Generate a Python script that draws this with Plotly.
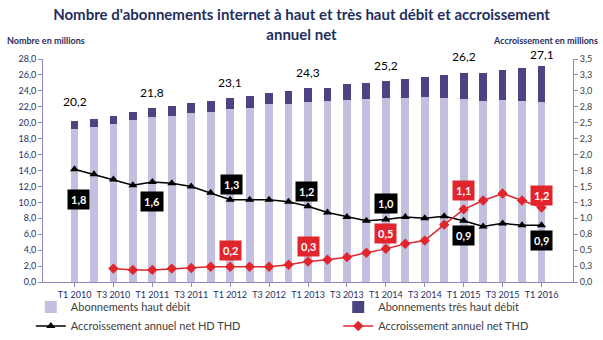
import plotly.graph_objects as go

quarters = [f"T{q} {y}" for y in range(2010, 2017) for q in (1, 2, 3, 4)][:25]

haut_debit = [19.2, 19.5, 19.85, 20.3, 20.7, 20.9, 21.2, 21.4, 21.7, 21.9, 22.3, 22.4, 22.65,
              22.7, 22.9, 22.95, 23.1, 23.1, 23.25, 23.1, 22.95, 22.7, 22.8, 22.7, 22.65]
total = [20.2, 20.5, 20.9, 21.4, 21.85, 22.1, 22.5, 22.7, 23.1, 23.4, 23.7, 24.0, 24.3,
         24.4, 24.8, 25.0, 25.25, 25.5, 25.75, 26.0, 26.25, 26.3, 26.6, 26.9, 27.15]
tres_haut_debit = [round(t - h, 2) for t, h in zip(total, haut_debit)]

accr_hd_thd = [1.77, 1.69, 1.61, 1.52, 1.57, 1.55, 1.50, 1.40, 1.29, 1.29, 1.29, 1.26, 1.19,
               1.09, 1.02, 0.96, 0.98, 1.02, 1.00, 1.03, 0.96, 0.87, 0.92, 0.89, 0.89]
accr_thd = [None, None, 0.21, 0.19, 0.19, 0.21, 0.22, 0.24, 0.24, 0.24, 0.24, 0.27, 0.32,
            0.35, 0.39, 0.46, 0.52, 0.60, 0.65, 0.90, 1.14, 1.28, 1.39, 1.28, 1.17]

label_idx = [0, 4, 8, 12, 16, 20, 24]
total_labels = ["20,2", "21,8", "23,1", "24,3", "25,2", "26,2", "27,1"]
hd_thd_labels = ["1,8", "1,6", "1,3", "1,2", "1,0", "0,9", "0,9"]
thd_label_idx = [8, 12, 16, 20, 24]
thd_labels = ["0,2", "0,3", "0,5", "1,1", "1,2"]

left_ticks = [i * 2 for i in range(15)]
left_ticktext = [f"{v},0" for v in left_ticks]
right_ticks = [i * 0.25 for i in range(15)]
right_ticktext = ["0,0", "0,3", "0,5", "0,8", "1,0", "1,3", "1,5", "1,8",
                  "2,0", "2,3", "2,5", "2,8", "3,0", "3,3", "3,5"]

# style offsets for labels (pixels)
total_shift = [20, 15, 16, 16, 15, 16, 11]
hd_thd_shift = [-30, -20, 15, 15, 16, -15, -15]
hd_thd_xshift = [4, 0, 1, -2, 0, 0, 0]
thd_shift = [16, 15, 15, 19, 12]

NAVY = "#1F2F5F"
AXIS = "#8C8CBC"
FONT = "Lato"

fig = go.Figure()
fig.add_trace(go.Bar(x=quarters, y=haut_debit, name="Abonnements haut débit",
                     marker=dict(color="#C3BFDE", line=dict(width=0)), yaxis="y",
                     legend="legend"))
fig.add_trace(go.Bar(x=quarters, y=tres_haut_debit, name="Abonnements très haut débit",
                     marker=dict(color="#4A4482", line=dict(width=0)), yaxis="y",
                     legend="legend2"))
fig.add_trace(go.Scatter(x=quarters, y=accr_hd_thd, name="Accroissement annuel net HD THD",
                         mode="lines+markers", line=dict(color="black", width=1.5),
                         marker=dict(symbol="triangle-up", size=8, color="black"), yaxis="y2",
                         legend="legend"))
fig.add_trace(go.Scatter(x=quarters, y=accr_thd, name="Accroissement annuel net THD",
                         mode="lines+markers", line=dict(color="#E0262C", width=1.5),
                         marker=dict(symbol="diamond", size=8, color="#E0262C"), yaxis="y2",
                         legend="legend2"))

annotations = []
for k, i in enumerate(label_idx):
    annotations.append(dict(x=quarters[i], y=total[i], xref="x", yref="y", text=total_labels[k],
                            showarrow=False, yshift=total_shift[k], yanchor="middle",
                            font=dict(family=FONT, size=12, color="black")))
    annotations.append(dict(x=quarters[i], y=accr_hd_thd[i], xref="x", yref="y2",
                            text=f"<b>{hd_thd_labels[k]}</b>", showarrow=False,
                            yshift=hd_thd_shift[k], xshift=hd_thd_xshift[k], yanchor="middle",
                            bgcolor="black", borderpad=3,
                            font=dict(family=FONT, size=11, color="white")))
for k, i in enumerate(thd_label_idx):
    annotations.append(dict(x=quarters[i], y=accr_thd[i], xref="x", yref="y2",
                            text=f"<b>{thd_labels[k]}</b>", showarrow=False,
                            yshift=thd_shift[k], yanchor="middle",
                            bgcolor="#E0262C", borderpad=3,
                            font=dict(family=FONT, size=11, color="white")))
annotations.append(dict(x=-0.072, y=1.085, xref="paper", yref="paper", xanchor="left", yanchor="middle",
                        text="<b>Nombre en millions</b>", showarrow=False,
                        font=dict(family=FONT, size=9, color=NAVY)))
annotations.append(dict(x=1.051, y=1.085, xref="paper", yref="paper", xanchor="right", yanchor="middle",
                        text="<b>Accroissement en millions</b>", showarrow=False,
                        font=dict(family=FONT, size=9, color=NAVY)))

legend_style = dict(orientation="v", yanchor="top", xanchor="left", traceorder="normal",
                    itemwidth=30, tracegroupgap=0, bgcolor="rgba(0,0,0,0)",
                    font=dict(family=FONT, size=11, color="#404040"))

fig.update_layout(
    width=603, height=340,
    margin=dict(l=43, r=30, t=59, b=58, autoexpand=False),
    paper_bgcolor="white", plot_bgcolor="white",
    barmode="stack", bargap=0.6,
    title=dict(text="<b>Nombre d'abonnements internet à haut et très haut débit et accroissement<br>annuel net</b>",
               x=0.5, xanchor="center", y=0.94, yanchor="top",
               font=dict(family=FONT, size=15, color=NAVY)),
    font=dict(family=FONT, size=9, color=NAVY),
    xaxis=dict(type="category", tickvals=quarters[::2], showline=True, linecolor=AXIS,
               ticks="outside", ticklen=4, tickcolor=AXIS, showgrid=False,
               tickfont=dict(family=FONT, size=9, color=NAVY)),
    yaxis=dict(range=[0, 28], tickvals=left_ticks, ticktext=left_ticktext, showline=True,
               linecolor=AXIS, ticks="outside", ticklen=4, tickcolor=AXIS, showgrid=False,
               zeroline=False, tickfont=dict(family=FONT, size=9, color=NAVY)),
    yaxis2=dict(range=[0, 3.5], tickvals=right_ticks, ticktext=right_ticktext, overlaying="y",
                side="right", showline=True, linecolor=AXIS, ticks="outside", ticklen=4,
                tickcolor=AXIS, showgrid=False, zeroline=False,
                tickfont=dict(family=FONT, size=9, color="#404040")),
    legend=dict(x=-0.023, y=-0.047, **legend_style),
    legend2=dict(x=0.557, y=-0.047, **legend_style),
    annotations=annotations,
    showlegend=True,
)

fig.write_html("out.html")
